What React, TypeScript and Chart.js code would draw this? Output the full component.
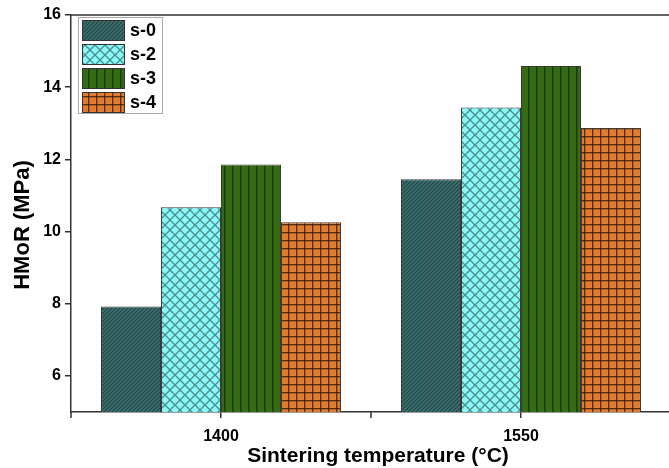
import React, { useEffect, useRef } from "react";
import { Chart, registerables } from "chart.js";

Chart.register(...registerables);

// Sintering temperatures (°C) on the x axis
const categories = ["1400", "1550"];
// Series names
const seriesNames = ["s-0", "s-2", "s-3", "s-4"];
// HMoR values (MPa) per series, one per temperature
const s0Values = [7.92, 11.45];
const s2Values = [10.67, 13.44];
const s3Values = [11.86, 14.59];
const s4Values = [10.26, 12.87];
// y-axis tick labels
const yTicks = [6, 8, 10, 12, 14, 16];

const FONT = "'Liberation Sans', Arial, sans-serif";
const W = 669;
const H = 468;

type Kind = "diag" | "cross" | "vert" | "grid";

function makePattern(kind: Kind): CanvasPattern | string {
  const c = document.createElement("canvas");
  const ctx = c.getContext("2d")!;
  if (kind === "diag") {
    c.width = 4; c.height = 4;
    ctx.fillStyle = "#3d6f6f";
    ctx.fillRect(0, 0, 4, 4);
    ctx.strokeStyle = "#234646";
    ctx.lineWidth = 1.1;
    ctx.beginPath();
    ctx.moveTo(0, 4); ctx.lineTo(4, 0);
    ctx.moveTo(-1, 1); ctx.lineTo(1, -1);
    ctx.moveTo(3, 5); ctx.lineTo(5, 3);
    ctx.stroke();
  } else if (kind === "cross") {
    c.width = 10; c.height = 10;
    ctx.fillStyle = "#88fafa";
    ctx.fillRect(0, 0, 10, 10);
    ctx.strokeStyle = "#4d8b8b";
    ctx.lineWidth = 1.3;
    ctx.beginPath();
    ctx.moveTo(0, 0); ctx.lineTo(10, 10);
    ctx.moveTo(0, 10); ctx.lineTo(10, 0);
    ctx.stroke();
  } else if (kind === "vert") {
    c.width = 8; c.height = 2;
    ctx.fillStyle = "#356b12";
    ctx.fillRect(0, 0, 8, 2);
    ctx.fillStyle = "#1d3a09";
    ctx.fillRect(0, 0, 1.5, 2);
  } else {
    c.width = 8; c.height = 8;
    ctx.fillStyle = "#e07c2b";
    ctx.fillRect(0, 0, 8, 8);
    ctx.fillStyle = "rgba(60,30,10,0.85)";
    ctx.fillRect(0, 0, 1.3, 8);
    ctx.fillRect(0, 0, 8, 1.3);
  }
  return ctx.createPattern(c, "repeat") || "#888";
}

const framePlugin = {
  id: "frameAndLegend",
  afterDraw(chart: any) {
    const { ctx, chartArea } = chart;
    ctx.save();
    // top frame line
    ctx.strokeStyle = "#333";
    ctx.lineWidth = 1.5;
    ctx.beginPath();
    ctx.moveTo(chartArea.left, chartArea.top);
    ctx.lineTo(W, chartArea.top);
    ctx.stroke();

    // x-axis ticks on the category boundaries
    const xs = chart.scales.x;
    ctx.beginPath();
    [0.5, 1.5, 2.5].forEach((v) => {
      const px = xs.getPixelForValue(v);
      ctx.moveTo(px, chartArea.bottom);
      ctx.lineTo(px, chartArea.bottom + 6);
    });
    ctx.stroke();

    // legend
    const lx = 78.5, ly = 17.5, lw = 84, lh = 96;
    ctx.strokeStyle = "#a8a8a8";
    ctx.lineWidth = 1;
    ctx.strokeRect(lx, ly, lw, lh);
    ctx.font = `bold 18px ${FONT}`;
    ctx.textBaseline = "middle";
    ctx.textAlign = "left";
    chart.data.datasets.forEach((ds: any, i: number) => {
      const sy = 20.5 + i * 24;
      ctx.fillStyle = ds.backgroundColor;
      ctx.fillRect(82.5, sy, 42, 20);
      ctx.strokeStyle = "#333";
      ctx.strokeRect(82.5, sy, 42, 20);
      ctx.fillStyle = "#000";
      ctx.fillText(ds.label, 130, sy + 11);
    });

    // axis titles
    ctx.fillStyle = "#000";
    ctx.font = `bold 21px ${FONT}`;
    ctx.textAlign = "center";
    ctx.fillText("Sintering temperature (\u00B0C)", 378, 456);
    ctx.save();
    ctx.translate(23, 225);
    ctx.rotate(-Math.PI / 2);
    ctx.font = `bold 22px ${FONT}`;
    ctx.fillText("HMoR (MPa)", 0, 0);
    ctx.restore();
    ctx.restore();
  },
};

export default function App() {
  const ref = useRef<HTMLCanvasElement>(null);
  useEffect(() => {
    if (!ref.current) return;
    const kinds: Kind[] = ["diag", "cross", "vert", "grid"];
    const values = [s0Values, s2Values, s3Values, s4Values];
    const datasets = seriesNames.map((name, i) => ({
      label: name,
      data: values[i].map((v, j) => ({ x: j + 1, y: v })),
      backgroundColor: makePattern(kinds[i]),
      borderColor: "#3a3a3a",
      borderWidth: 1,
      barPercentage: 1,
      categoryPercentage: 0.8,
    }));
    const chart = new Chart(ref.current, {
      type: "bar",
      data: { datasets } as any,
      plugins: [framePlugin],
      options: {
        animation: false,
        responsive: false,
        layout: { padding: { top: 15, right: 0, left: 0, bottom: 0 } },
        plugins: { legend: { display: false }, tooltip: { enabled: false } },
        scales: {
          x: {
            type: "linear",
            offset: false,
            min: 0.5,
            max: 0.5 + (W - 71) / 300,
            afterBuildTicks: (s: any) => {
              s.ticks = [1, 2].map((v) => ({ value: v }));
            },
            afterFit: (s: any) => { s.height = H - 412; },
            ticks: {
              autoSkip: false,
              maxRotation: 0,
              padding: 9,
              color: "#000",
              font: { family: FONT, size: 16, weight: "bold" },
              callback: (v: any) => {
                const idx = Number(v) - 1;
                return Number.isInteger(idx) && categories[idx] ? categories[idx] : "";
              },
            },
            grid: { offset: false, drawOnChartArea: false, drawTicks: true, tickLength: 6, color: "#333", lineWidth: 1.5 },
            border: { display: true, color: "#333", width: 1.5 },
          },
          y: {
            min: 5,
            max: 16,
            afterBuildTicks: (s: any) => {
              s.ticks = yTicks.map((v) => ({ value: v }));
            },
            afterFit: (s: any) => { s.width = 71; },
            ticks: {
              padding: 4,
              color: "#000",
              font: { family: FONT, size: 16, weight: "bold" },
            },
            grid: { drawOnChartArea: false, drawTicks: true, tickLength: 6, color: "#333", lineWidth: 1.5 },
            border: { display: true, color: "#333", width: 1.5 },
          },
        },
      } as any,
    });
    return () => chart.destroy();
  }, []);
  return (
    <div style={{ position: "fixed", left: 0, top: 0, width: W, height: H, background: "#fff" }}>
      <canvas ref={ref} width={W} height={H} style={{ display: "block" }} />
    </div>
  );
}
